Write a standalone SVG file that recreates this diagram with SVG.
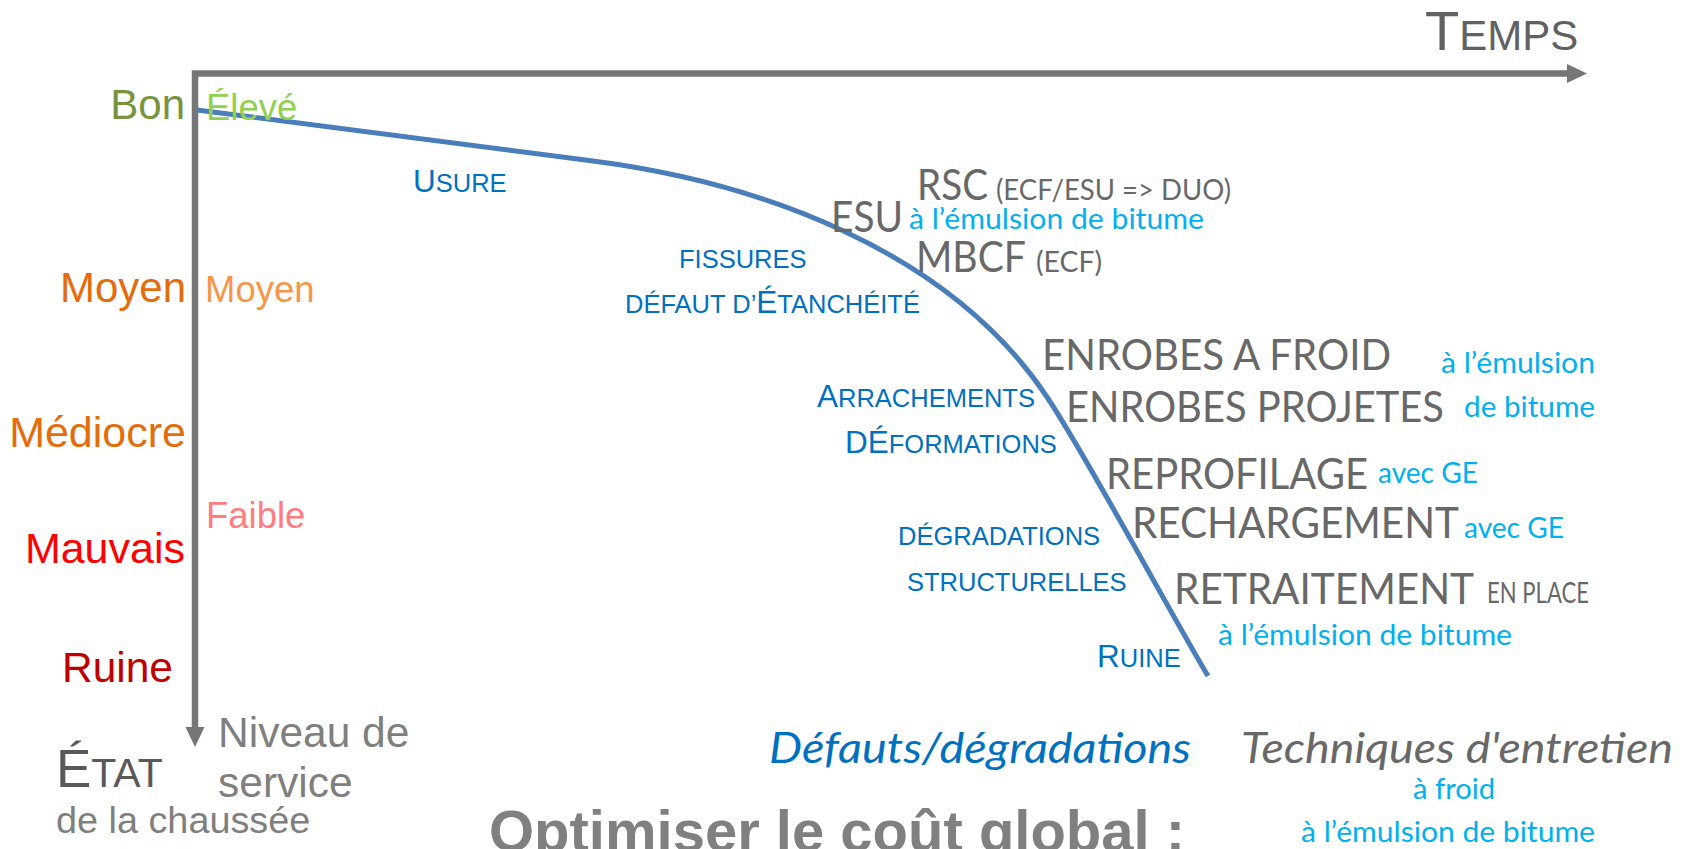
<svg xmlns="http://www.w3.org/2000/svg" width="1697" height="849" viewBox="0 0 1697 849">
<style>
.ar{font-family:"Liberation Sans",Arial,sans-serif}
.ca{font-family:Lato,"Open Sans",sans-serif}
.bl{fill:#0070C0;font-family:"Liberation Sans",Arial,sans-serif;font-size:25.5px}
.big{font-size:31.5px}
.gr{fill:#686868;font-family:Lato,"Open Sans",sans-serif;font-size:42px}
.lb{fill:#00B0F0;font-family:Lato,"Open Sans",sans-serif;font-size:29px}
.pa{fill:#686868;font-family:Lato,"Open Sans",sans-serif;font-size:28px}
.axis{fill:none;stroke:#767676;stroke-width:6.5;stroke-linejoin:miter}
.curve{fill:none;stroke:#4A7EBB;stroke-width:5}
</style>
<defs>
<marker id="arr" markerUnits="userSpaceOnUse" markerWidth="21" markerHeight="20" refX="0" refY="10" orient="auto-start-reverse">
<path d="M0,0.5 L20,10 L0,19.5 z" fill="#767676"/>
</marker>
</defs>
<rect width="1697" height="849" fill="#ffffff"/>
<g id="connectors">
<polyline class="axis" points="195,727 195,73.5 1567,73.5" marker-start="url(#arr)" marker-end="url(#arr)"/>
<path class="curve" d="M197,110 L593,161 C753,181.6 947,247 1047,397 C1087,457 1158,591 1208,676"/>
</g>
<g id="temps"><text class="ar" x="1425" y="50" fill="#616161" font-size="56">T<tspan font-size="42">EMPS</tspan></text></g>
<g id="etat">
<text class="ar" x="56" y="787" fill="#595959" font-size="53">É<tspan font-size="41">TAT</tspan></text>
<text class="ar" x="56" y="833" fill="#7F7F7F" font-size="37.8">de la chaussée</text>
</g>
<g id="niveau">
<text class="ar" x="218" y="747" fill="#7F7F7F" font-size="42.5">Niveau de</text>
<text class="ar" x="218" y="797" fill="#7F7F7F" font-size="42.5">service</text>
</g>
<g id="etat-levels" class="ar" font-size="42" text-anchor="end">
<text x="185" y="119" fill="#77933C">Bon</text>
<text x="186" y="302" fill="#E46C0A">Moyen</text>
<text x="186" y="447" fill="#E46C0A" font-size="43">Médiocre</text>
<text x="185" y="563" fill="#FF0000" font-size="43">Mauvais</text>
<text x="173" y="682" fill="#C00000" font-size="42.5">Ruine</text>
</g>
<g id="service-levels" class="ar" font-size="36.5">
<text x="206" y="120" fill="#92D050">Élevé</text>
<text x="205" y="302" fill="#F79646">Moyen</text>
<text x="206" y="528" fill="#FF7C80">Faible</text>
</g>
<g id="defauts">
<text class="bl" x="413" y="192"><tspan class="big">U</tspan>SURE</text>
<text class="bl" x="679" y="268">FISSURES</text>
<text class="bl" x="625" y="313" font-size="26">DÉFAUT D’<tspan class="big">É</tspan>TANCHÉITÉ</text>
<text class="bl" x="817" y="407"><tspan class="big">A</tspan>RRACHEMENTS</text>
<text class="bl" x="845" y="453"><tspan class="big">DÉ</tspan>FORMATIONS</text>
<text class="bl" x="898" y="545">DÉGRADATIONS</text>
<text class="bl" x="907" y="591">STRUCTURELLES</text>
<text class="bl" x="1097" y="667"><tspan class="big">R</tspan>UINE</text>
</g>
<g id="rsc">
<text class="gr" x="917" y="200" textLength="71" lengthAdjust="spacingAndGlyphs">RSC</text>
<text class="pa" x="996" y="200" textLength="235" lengthAdjust="spacingAndGlyphs">(ECF/ESU =&gt; DUO)</text>
</g>
<g id="esu">
<text class="gr" x="831" y="232" textLength="72" lengthAdjust="spacingAndGlyphs">ESU</text>
<text class="lb" x="909" y="229" textLength="295" lengthAdjust="spacingAndGlyphs">à l’émulsion de bitume</text>
</g>
<g id="mbcf">
<text class="gr" x="916" y="272" textLength="110" lengthAdjust="spacingAndGlyphs">MBCF</text>
<text class="pa" x="1036" y="272" textLength="66" lengthAdjust="spacingAndGlyphs">(ECF)</text>
</g>
<g id="enrobes">
<text class="gr" x="1042" y="370" textLength="349" lengthAdjust="spacingAndGlyphs">ENROBES A FROID</text>
<text class="gr" x="1066" y="422" textLength="378" lengthAdjust="spacingAndGlyphs">ENROBES PROJETES</text>
<text class="lb" x="1441" y="373" textLength="154" lengthAdjust="spacingAndGlyphs">à l’émulsion</text>
<text class="lb" x="1464" y="417" textLength="131" lengthAdjust="spacingAndGlyphs">de bitume</text>
</g>
<g id="reprofilage">
<text class="gr" x="1106" y="489" textLength="262" lengthAdjust="spacingAndGlyphs">REPROFILAGE</text>
<text class="lb" x="1378" y="483" textLength="100" lengthAdjust="spacingAndGlyphs">avec GE</text>
</g>
<g id="rechargement">
<text class="gr" x="1132" y="538" textLength="327" lengthAdjust="spacingAndGlyphs">RECHARGEMENT</text>
<text class="lb" x="1464" y="538" textLength="100" lengthAdjust="spacingAndGlyphs">avec GE</text>
</g>
<g id="retraitement">
<text class="gr" x="1174" y="604" textLength="300" lengthAdjust="spacingAndGlyphs">RETRAITEMENT</text>
<text class="pa" x="1487" y="603" font-size="24.5" textLength="102" lengthAdjust="spacingAndGlyphs">EN PLACE</text>
<text class="lb" x="1218" y="645" textLength="294" lengthAdjust="spacingAndGlyphs">à l’émulsion de bitume</text>
</g>
<g id="legend">
<text class="ca" x="769" y="763" fill="#0070C0" font-size="43" font-style="italic" textLength="422" lengthAdjust="spacingAndGlyphs">Défauts/dégradations</text>
<text class="ca" x="1241" y="763" fill="#686868" font-size="43" font-style="italic" textLength="432" lengthAdjust="spacingAndGlyphs">Techniques d'entretien</text>
<text class="lb" x="1413" y="799" textLength="82" lengthAdjust="spacingAndGlyphs">à froid</text>
<text class="lb" x="1301" y="842" textLength="294" lengthAdjust="spacingAndGlyphs">à l’émulsion de bitume</text>
</g>
<g id="title">
<text class="ar" x="489" y="851" fill="#808080" font-size="58" font-weight="bold">Optimiser le coût global :</text>
</g>
</svg>
